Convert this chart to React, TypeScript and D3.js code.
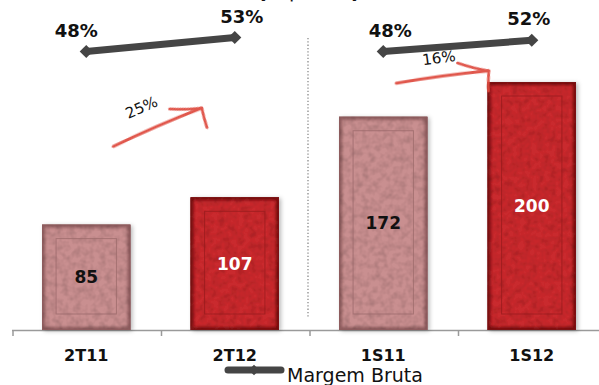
import React from "react";
import * as d3 from "d3";

// Gross profit per period (R$ MM) and gross margin (%)
const categories = ["2T11", "2T12", "1S11", "1S12"];
const grossProfit = [85, 107, 172, 200];
const grossMargin = [48, 53, 48, 52];
const growthLabels = ["25%", "16%"];
const legendLabel = "Margem Bruta";
const titleText = "(R$ MM)";

const W = 599;
const H = 385;

const palette = [
  { face: "#c98f90", edge: "#8e5c5e", inner: "#9c6a6b", text: "#111" },
  { face: "#c92a2e", edge: "#7c1416", inner: "#9a1b1e", text: "#fff" },
  { face: "#c98f90", edge: "#8e5c5e", inner: "#9c6a6b", text: "#111" },
  { face: "#c92a2e", edge: "#7c1416", inner: "#9a1b1e", text: "#fff" },
];

const FONT = "'DejaVu Sans', Verdana, sans-serif";

export default function App() {
  const x = d3.scaleBand<string>().domain(categories).range([12, 606]);
  const y = d3.scaleLinear().domain([0, 200]).range([330, 82]);
  const yM = d3.scaleLinear().domain([48, 53]).range([51.5, 37.5]);

  const bw = x.bandwidth() * 0.595;
  const cx = (c: string) => (x(c) as number) + x.bandwidth() / 2;

  // margin series drawn as two separate pairs (quarter, semester)
  const pairs = [
    [0, 1],
    [2, 3],
  ];
  const line = d3
    .line<number>()
    .x((i) => cx(categories[i]))
    .y((i) => yM(grossMargin[i]));
  const diamond = d3.symbol().type(d3.symbolDiamond2).size(110)();
  const labelDx = [-10, 7, 7, -3];

  // growth arrows between the bars of each pair
  const arrows = pairs.map(([a, b], k) => {
    const x0 = cx(categories[a]) + (k === 0 ? 27 : 13);
    const x1 = cx(categories[b]) - (k === 0 ? 33 : 43);
    const y0 = k === 0 ? y(148) : y(199);
    const y1 = k === 0 ? y(179) : y(209);
    const ang = (Math.atan2(y1 - y0, x1 - x0) * 180) / Math.PI;
    return { x0, x1, y0, y1, ang, label: growthLabels[k], k };
  });

  const baseY = y(0);

  return (
    <svg width={W} height={H} style={{ display: "block", position: "absolute", left: 0, top: 0 }}>
      <defs>
        <filter id="shadow" x="-20%" y="-20%" width="150%" height="150%">
          <feDropShadow dx="2" dy="1" stdDeviation="2" floodColor="#000" floodOpacity="0.28" />
        </filter>
        <filter id="soft" x="-10%" y="-10%" width="120%" height="120%">
          <feGaussianBlur stdDeviation="1.6" />
        </filter>
        <filter id="tex" x="0" y="0" width="100%" height="100%">
          <feTurbulence type="fractalNoise" baseFrequency="0.16" numOctaves="2" seed="7" result="n" />
          <feColorMatrix
            in="n"
            type="matrix"
            values="0 0 0 0 0  0 0 0 0 0  0 0 0 0 0  0 0 0 0.55 -0.2"
            result="spots"
          />
          <feComposite in="spots" in2="SourceGraphic" operator="in" result="spotsIn" />
          <feMerge>
            <feMergeNode in="SourceGraphic" />
            <feMergeNode in="spotsIn" />
          </feMerge>
        </filter>
        <filter id="pen" x="-10%" y="-30%" width="120%" height="160%">
          <feGaussianBlur stdDeviation="0.7" />
        </filter>
      </defs>

      <rect width={W} height={H} fill="#fff" />

      {/* title, mostly above the top edge */}
      <text x={257} y={-2} fontFamily={FONT} fontWeight="bold" fontSize={22} fill="#111">
        {titleText}
      </text>

      {/* separator between quarters and semesters */}
      <line
        x1={308}
        x2={308}
        y1={38}
        y2={318}
        stroke="#8a8a8a"
        strokeWidth={1.3}
        strokeDasharray="1.3 2"
      />

      {/* category axis */}
      <line x1={x.range()[0]} x2={W} y1={baseY + 0.5} y2={baseY + 0.5} stroke="#9a9a9a" strokeWidth={1.5} />
      {categories.map((c) => (
        <line
          key={"t" + c}
          x1={(x(c) as number) + 1}
          x2={(x(c) as number) + 1}
          y1={baseY}
          y2={baseY + 6}
          stroke="#9a9a9a"
          strokeWidth={1.5}
        />
      ))}

      {/* bars */}
      {categories.map((c, i) => {
        const p = palette[i];
        const bx = cx(c) - bw / 2;
        const by = y(grossProfit[i]);
        const bh = baseY - by;
        return (
          <g key={"b" + c}>
            <g filter="url(#shadow)">
              <rect x={bx} y={by} width={bw} height={bh} fill={p.edge} />
            </g>
            <g filter="url(#tex)">
              <rect x={bx} y={by} width={bw} height={bh} fill={p.edge} />
              <rect
                x={bx + 3}
                y={by + 3}
                width={bw - 6}
                height={bh - 6}
                fill={p.face}
                filter="url(#soft)"
              />
            </g>
            <rect
              x={bx + 14}
              y={by + 14}
              width={bw - 28}
              height={Math.max(0, bh - 30)}
              fill="none"
              stroke={p.inner}
              strokeWidth={1}
              opacity={0.8}
            />
            <rect x={bx + 0.5} y={by + 0.5} width={bw - 1} height={bh - 1} fill="none" stroke={p.edge} strokeWidth={1} opacity={0.8} />
            <text
              x={cx(c)}
              y={by + bh / 2}
              dy="0.36em"
              textAnchor="middle"
              fontFamily={FONT}
              fontWeight="bold"
              fontSize={17}
              fill={p.text}
            >
              {grossProfit[i]}
            </text>
          </g>
        );
      })}

      {/* category labels */}
      {categories.map((c) => (
        <text
          key={"l" + c}
          x={cx(c)}
          y={361}
          textAnchor="middle"
          fontFamily={FONT}
          fontWeight="bold"
          fontSize={16}
          fill="#111"
        >
          {c}
        </text>
      ))}

      {/* growth arrows */}
      {arrows.map((a) => {
        const len = Math.hypot(a.x1 - a.x0, a.y1 - a.y0);
        const mx = (a.x0 + a.x1) / 2;
        const my = (a.y0 + a.y1) / 2;
        return (
          <g key={"a" + a.k}>
            <g
              transform={`translate(${a.x0},${a.y0}) rotate(${a.ang})`}
              filter="url(#pen)"
              stroke="#de4a3e"
              strokeWidth={3}
              strokeLinecap="round"
              fill="none"
              opacity={0.92}
            >
              <path d={`M0,0 Q${len * 0.5},${-2} ${len},0`} />
              <path d={`M${len - 30},${-12} Q${len - 14},${-4} ${len},0`} strokeWidth={2.6} />
              <path d={`M${len},0 Q${len - 2},${10} ${len - 3},${20}`} strokeWidth={2.8} />
            </g>
            <text
              transform={`translate(${a.k === 0 ? mx - 14 : mx - 3},${a.k === 0 ? my - 15 : my - 14}) rotate(${a.ang})`}
              textAnchor="middle"
              fontFamily={FONT}
              fontSize={15}
              fill="#111"
            >
              {a.label}
            </text>
          </g>
        );
      })}

      {/* gross margin line pairs */}
      {pairs.map((pr, k) => (
        <g key={"m" + k}>
          <path d={line(pr) as string} stroke="#454545" strokeWidth={7} fill="none" />
          {pr.map((i) => (
            <path
              key={i}
              d={diamond as string}
              transform={`translate(${cx(categories[i])},${yM(grossMargin[i])})`}
              fill="#454545"
            />
          ))}
          {pr.map((i) => (
            <text
              key={"t" + i}
              x={cx(categories[i]) + labelDx[i]}
              y={yM(grossMargin[i]) - 15}
              textAnchor="middle"
              fontFamily={FONT}
              fontWeight="bold"
              fontSize={18}
              fill="#111"
            >
              {grossMargin[i]}%
            </text>
          ))}
        </g>
      ))}

      {/* legend */}
      <g>
        <line x1={228} x2={281} y1={370} y2={370} stroke="#454545" strokeWidth={7} strokeLinecap="round" />
        <path d={d3.symbol().type(d3.symbolDiamond2).size(70)() as string} transform="translate(254,370)" fill="#454545" />
        <text
          x={287}
          y={382}
          fontFamily={FONT}
          fontSize={20}
          textLength={136}
          lengthAdjust="spacingAndGlyphs"
          fill="#111"
        >
          {legendLabel}
        </text>
      </g>
    </svg>
  );
}
